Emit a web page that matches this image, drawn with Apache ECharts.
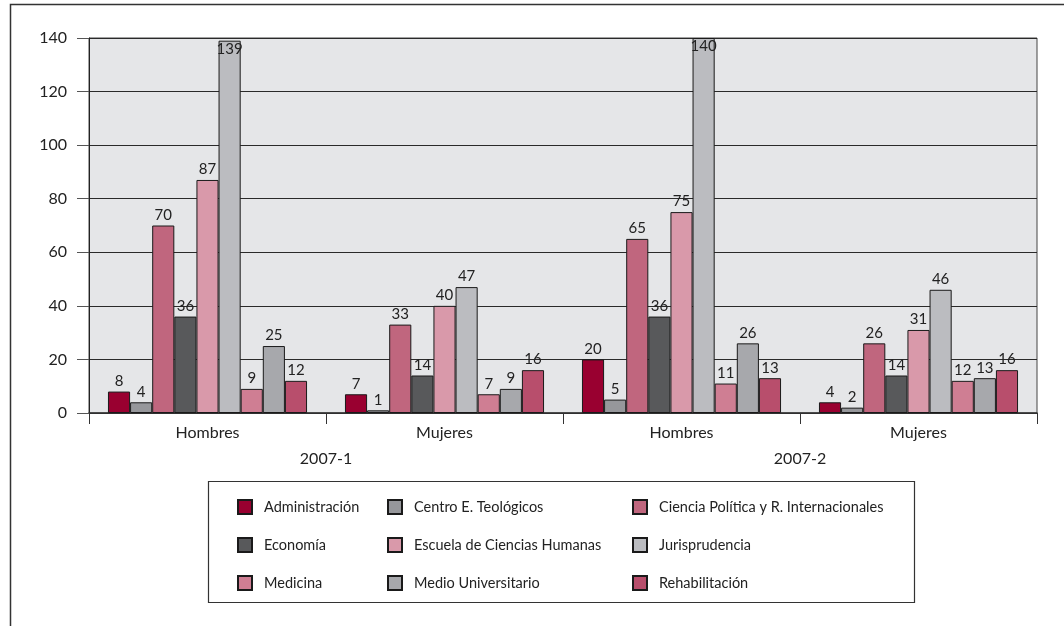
<!DOCTYPE html>
<html><head><meta charset="utf-8">
<script src="https://cdn.jsdelivr.net/npm/echarts@6/dist/echarts.min.js"></script>
<style>html,body{margin:0;padding:0;background:#fff}#c{width:1064px;height:626px}</style>
</head><body><div id="c"></div>
<script>
const categories = ['Hombres', 'Mujeres', 'Hombres', 'Mujeres'];
const periods = ['2007-1', '2007-2'];
const seriesNames = ['Administración', 'Centro E. Teológicos', 'Ciencia Política y R. Internacionales',
  'Economía', 'Escuela de Ciencias Humanas', 'Jurisprudencia', 'Medicina', 'Medio Universitario', 'Rehabilitación'];
const administracion = [8, 7, 20, 4];
const centroTeologicos = [4, 1, 5, 2];
const cienciaPolitica = [70, 33, 65, 26];
const economia = [36, 14, 36, 14];
const escuelaHumanas = [87, 40, 75, 31];
const jurisprudencia = [139, 47, 140, 46];
const medicina = [9, 7, 11, 12];
const medioUniversitario = [25, 9, 26, 13];
const rehabilitacion = [12, 16, 13, 16];
const yTicks = [0, 20, 40, 60, 80, 100, 120, 140];

const values = [administracion, centroTeologicos, cienciaPolitica, economia, escuelaHumanas,
  jurisprudencia, medicina, medioUniversitario, rehabilitacion];
const colors = ['#990030', '#96979b', '#c0667e', '#58595b', '#d999aa', '#bbbcc0', '#cf7e93', '#a7a8ac', '#b84e6c'];
const FONT = 'Lato';

const series = seriesNames.map((name, i) => ({
  name, type: 'bar', xAxisIndex: 0,
  barGap: '0%', barCategoryGap: '16%',
  itemStyle: { color: colors[i], borderColor: '#1a1a1a', borderWidth: 1 },
  label: { show: true, position: 'top', distance: 3, color: '#222', fontFamily: FONT, fontSize: 15 },
  data: values[i].map(v => v > 130
    ? { value: v, label: { position: 'insideTop', distance: 1 } }
    : v),
  animation: false
}));

const legendCols = [[0, 3, 6], [1, 4, 7], [2, 5, 8]];
const legendLeft = [237, 387, 632];
const legends = legendCols.map((col, k) => ({
  orient: 'vertical', left: legendLeft[k], top: 499, padding: 0,
  itemWidth: 14, itemHeight: 14, itemGap: 22,
  icon: 'rect',
  data: col.map(i => seriesNames[i]),
  textStyle: { fontFamily: FONT, fontSize: 14.5, color: '#222', padding: [0, 0, 0, 7] },
  selectedMode: false
}));

const chart = echarts.init(document.getElementById('c'), null, { renderer: 'canvas' });
chart.setOption({
  backgroundColor: '#fff',
  animation: false,
  grid: { left: 89, right: 27, top: 38, bottom: 213, show: true, backgroundColor: '#e5e6e8',
    borderColor: '#444', borderWidth: 1 },
  legend: legends,
  xAxis: [
    { type: 'category', data: categories, position: 'bottom',
      axisLine: { lineStyle: { color: '#333', width: 1.5 } },
      axisTick: { show: true, length: 11, lineStyle: { color: '#333' } },
      axisLabel: { fontFamily: FONT, fontSize: 16, color: '#222', margin: 12 } },
    { type: 'category', data: periods, position: 'bottom', offset: 26,
      axisLine: { show: false }, axisTick: { show: false },
      axisLabel: { fontFamily: FONT, fontSize: 16, color: '#222', margin: 12 } }
  ],
  yAxis: {
    type: 'value', min: yTicks[0], max: yTicks[yTicks.length - 1], interval: 20,
    axisLine: { show: true, lineStyle: { color: '#222' } },
    axisTick: { show: true, length: 12, lineStyle: { color: '#555' } },
    axisLabel: { fontFamily: FONT, fontSize: 16, color: '#222', margin: 22 },
    splitLine: { show: true, lineStyle: { color: '#2a2a2a', width: 1 } }
  },
  series: series.concat([{ type: 'bar', xAxisIndex: 1, data: [], silent: true }]),
  graphic: [
    { type: 'rect', shape: { x: 10.5, y: 4.5, width: 1100, height: 700 },
      style: { fill: 'none', stroke: '#333', lineWidth: 1.5 }, silent: true, z: -1 },
    { type: 'rect', shape: { x: 208.5, y: 481.5, width: 706, height: 121 },
      style: { fill: 'none', stroke: '#333', lineWidth: 1.2 }, silent: true }
  ]
});
</script></body></html>
